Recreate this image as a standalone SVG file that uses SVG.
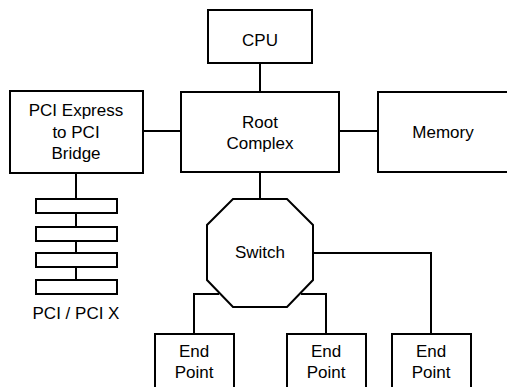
<svg xmlns="http://www.w3.org/2000/svg" width="507" height="387" viewBox="0 0 507 387">
<style>
.b{fill:#fff;stroke:#000;stroke-width:2}
.c{fill:none;stroke:#000;stroke-width:2}
text{font-family:"Liberation Sans",Arial,sans-serif;font-size:17px;fill:#000;text-anchor:middle}
</style>
<rect width="507" height="387" fill="#fff"/>
<g id="connectors">
<line class="c" x1="260" y1="63" x2="260" y2="92"/>
<line class="c" x1="143" y1="131" x2="181" y2="131"/>
<line class="c" x1="339" y1="131" x2="378" y2="131"/>
<line class="c" x1="260" y1="172" x2="260" y2="199"/>
<line class="c" x1="76" y1="173" x2="76" y2="280"/>
<polyline class="c" points="219,294 194,294 194,334"/>
<polyline class="c" points="301,294 326,294 326,334"/>
<polyline class="c" points="313,253 431,253 431,334"/>
</g>
<g id="cpu"><rect class="b" x="208" y="10" width="104" height="53"/><text x="260" y="46">CPU</text></g>
<g id="root"><rect class="b" x="181" y="92" width="158" height="80"/><text x="260" y="128">Root</text><text x="260" y="149">Complex</text></g>
<g id="bridge"><rect class="b" x="10" y="91" width="133" height="82"/><text x="76" y="116">PCI Express</text><text x="76" y="138">to PCI</text><text x="76" y="159">Bridge</text></g>
<g id="memory"><rect class="b" x="378" y="92" width="135" height="80"/><text x="443" y="138">Memory</text></g>
<g id="pci">
<rect class="b" x="36" y="199" width="81" height="14"/>
<rect class="b" x="36" y="227" width="81" height="14"/>
<rect class="b" x="36" y="253" width="81" height="14"/>
<rect class="b" x="36" y="280" width="81" height="14"/>
<text x="76" y="319">PCI / PCI X</text>
</g>
<g id="switch"><polygon class="b" points="233,199 287,199 313,225 313,280 287,307 233,307 207,280 207,225"/><text x="260" y="258">Switch</text></g>
<g id="ep1"><rect class="b" x="155" y="334" width="79" height="60"/><text x="194" y="357">End</text><text x="194" y="378">Point</text></g>
<g id="ep2"><rect class="b" x="287" y="334" width="79" height="60"/><text x="326" y="357">End</text><text x="326" y="378">Point</text></g>
<g id="ep3"><rect class="b" x="392" y="334" width="79" height="60"/><text x="431" y="357">End</text><text x="431" y="378">Point</text></g>
</svg>
